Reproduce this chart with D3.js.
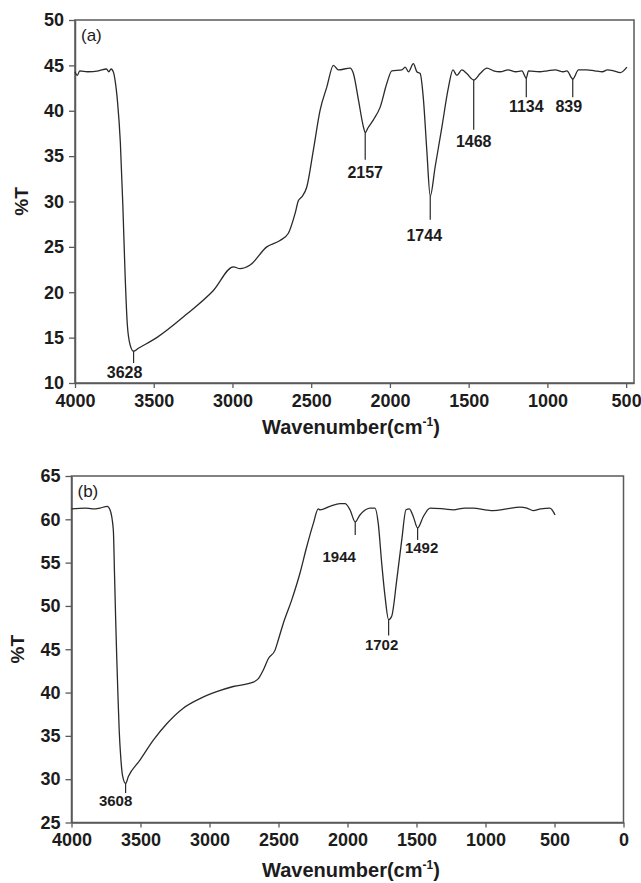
<!DOCTYPE html>
<html>
<head>
<meta charset="utf-8">
<script src="https://cdn.jsdelivr.net/npm/d3@7"></script>
<style>
  body { margin: 0; background: #fff; }
  svg { display: block; font-family: "Liberation Sans", Arial, sans-serif; }
</style>
</head>
<body>
<div id="chart"></div>
<script>
// Panel (a) spectrum: wavenumber (cm-1) and %T
const wnA = [4000, 3985, 3970, 3920, 3850, 3800, 3785, 3771, 3755, 3746, 3730, 3712, 3696, 3682, 3668, 3650, 3628, 3600,
  3481, 3290, 3121, 2994, 2952, 2888, 2782, 2698, 2645, 2602, 2581, 2560, 2528, 2486, 2443, 2401, 2359, 2327, 2253,
  2232, 2200, 2168, 2157, 2140, 2105, 2062, 2020, 1988, 1924, 1903, 1882, 1851, 1829, 1808, 1787, 1766, 1744, 1713,
  1670, 1628, 1600, 1575, 1543, 1512, 1468, 1427, 1384, 1342, 1300, 1250, 1200, 1162, 1134, 1120, 1050, 1000, 950,
  900, 876, 839, 802, 750, 700, 650, 620, 580, 537, 495];
const tA = [44.3, 43.9, 44.4, 44.3, 44.4, 44.6, 44.3, 44.6, 44.2, 43.4, 41.0, 36.5, 29.5, 22.0, 16.5, 14.2, 13.5, 13.8,
  15.0, 17.6, 20.2, 22.8, 22.6, 23.0, 25.0, 25.7, 26.5, 28.7, 30.1, 30.5, 31.6, 35.7, 40.1, 42.6, 45.0, 44.5, 44.7,
  44.1, 41.2, 38.2, 37.6, 38.1, 39.0, 40.4, 43.0, 44.4, 44.5, 44.8, 44.3, 45.2, 44.3, 44.1, 41.2, 35.7, 30.6, 33.8,
  38.2, 42.6, 44.5, 43.9, 44.5, 44.1, 43.4, 44.1, 44.7, 44.4, 44.3, 44.5, 44.3, 44.4, 43.6, 44.4, 44.3, 44.4, 44.5,
  44.3, 44.4, 43.5, 44.5, 44.5, 44.4, 44.3, 44.5, 44.4, 44.2, 44.8];

// Panel (b) spectrum
const wnB = [4000, 3900, 3850, 3793, 3741, 3721, 3697, 3688, 3680, 3672, 3663, 3654, 3643, 3630, 3608, 3588, 3504,
  3407, 3310, 3190, 3069, 2948, 2828, 2683, 2646, 2610, 2574, 2525, 2501, 2465, 2404, 2344, 2296, 2248, 2212, 2199,
  2127, 2054, 2018, 1982, 1944, 1910, 1886, 1837, 1801, 1777, 1752, 1728, 1702, 1680, 1643, 1607, 1576, 1552, 1523,
  1492, 1451, 1402, 1300, 1233, 1150, 1089, 1000, 944, 846, 750, 700, 654, 600, 533, 496];
const tB = [61.2, 61.3, 61.2, 61.3, 61.5, 61.1, 58.8, 53.5, 48.5, 44.0, 39.5, 35.5, 32.5, 30.4, 29.5, 30.3, 32.2,
  34.5, 36.4, 38.2, 39.3, 40.1, 40.7, 41.2, 41.6, 42.6, 43.9, 44.9, 46.1, 48.0, 50.7, 53.8, 56.8, 59.5, 61.2, 61.1,
  61.5, 61.8, 61.8, 61.1, 59.7, 60.5, 60.9, 61.3, 61.3, 59.5, 54.9, 51.1, 48.4, 48.8, 53.0, 57.6, 61.1, 61.2, 60.3,
  59.0, 60.3, 61.3, 61.2, 61.1, 61.3, 61.3, 61.1, 61.0, 61.2, 61.4, 61.3, 61.0, 61.2, 61.3, 60.5];

// Peak markers: wavenumber, %T at the dip, %T where the marker line ends
const peaksA = [3628, 2157, 1744, 1468, 1134, 839];
const peakMinA = [13.5, 37.6, 30.6, 43.4, 43.6, 43.5];
const peakEndA = [12.2, 34.6, 28.0, 37.9, 41.5, 41.5];
const peaksB = [3608, 1944, 1702, 1492];
const peakMinB = [29.5, 59.7, 48.4, 59.0];
const peakEndB = [28.4, 58.2, 46.6, 57.6];

const xTicksA = [4000, 3500, 3000, 2500, 2000, 1500, 1000, 500];
const yTicksA = [10, 15, 20, 25, 30, 35, 40, 45, 50];
const xTicksB = [4000, 3500, 3000, 2500, 2000, 1500, 1000, 500, 0];
const yTicksB = [25, 30, 35, 40, 45, 50, 55, 60, 65];

const W = 641, H = 883;
const svg = d3.select("#chart").append("svg")
  .attr("width", W)
  .attr("height", H);

const axisColor = "#5a5a5a";
const inkColor = "#1c1c1c";

function drawPanel(opt) {
  const x = d3.scaleLinear().domain(opt.xDomain).range([opt.left, opt.right]);
  const y = d3.scaleLinear().domain(opt.yDomain).range([opt.bottom, opt.top]);
  const g = svg.append("g");

  // frame
  g.append("rect")
    .attr("x", opt.left).attr("y", opt.top)
    .attr("width", opt.right - opt.left).attr("height", opt.bottom - opt.top)
    .attr("fill", "none").attr("stroke", axisColor).attr("stroke-width", 1.5);

  const xAxis = g.append("g")
    .attr("transform", `translate(0,${opt.bottom})`)
    .call(d3.axisBottom(x).tickValues(opt.xTicks).tickFormat(d3.format("d"))
      .tickSize(5).tickPadding(6).tickSizeOuter(0));
  const yAxis = g.append("g")
    .attr("transform", `translate(${opt.left},0)`)
    .call(d3.axisLeft(y).tickValues(opt.yTicks).tickFormat(d3.format("d"))
      .tickSize(6).tickPadding(5).tickSizeOuter(0));

  [xAxis, yAxis].forEach(a => {
    a.select(".domain").attr("stroke", axisColor).attr("stroke-width", 1.5);
    a.selectAll(".tick line").attr("stroke", axisColor).attr("stroke-width", 1.3);
    a.selectAll(".tick text")
      .attr("fill", inkColor)
      .style("font-size", "18px")
      .style("font-weight", "bold")
      .style("font-family", "'Liberation Sans', Arial, sans-serif");
  });

  // spectrum
  const pts = opt.wn.map((w, i) => [w, opt.t[i]]);
  const line = d3.line()
    .x(d => x(d[0]))
    .y(d => y(d[1]))
    .curve(d3.curveMonotoneX);
  g.append("path")
    .datum(pts)
    .attr("d", line)
    .attr("fill", "none")
    .attr("stroke", "#2a2a2a")
    .attr("stroke-width", 1.3)
    .attr("stroke-linejoin", "round");

  // peak markers
  opt.peaks.forEach((p, i) => {
    g.append("line")
      .attr("x1", x(p)).attr("x2", x(p))
      .attr("y1", y(opt.peakMin[i])).attr("y2", y(opt.peakEnd[i]))
      .attr("stroke", "#2a2a2a").attr("stroke-width", 1.2);
    const off = opt.labelOffsets[i];
    g.append("text")
      .attr("x", x(p) + off[0])
      .attr("y", y(opt.peakEnd[i]) + off[1])
      .attr("text-anchor", "middle")
      .attr("fill", inkColor)
      .style("font-size", opt.peakFont + "px")
      .style("font-weight", "bold")
      .text(p);
  });

  // panel tag
  g.append("text")
    .attr("x", opt.left + 6)
    .attr("y", opt.top + 21)
    .attr("fill", inkColor)
    .style("font-size", "17px")
    .text(opt.tag);

  // y title
  const cy = (opt.top + opt.bottom) / 2;
  g.append("text")
    .attr("transform", `translate(${opt.yTitleX},${cy}) rotate(-90)`)
    .attr("text-anchor", "middle")
    .attr("fill", inkColor)
    .style("font-size", "19px")
    .style("font-weight", "bold")
    .text("%T");

  // x title
  const xt = g.append("text")
    .attr("x", 351)
    .attr("y", opt.bottom + opt.xTitleGap)
    .attr("text-anchor", "middle")
    .attr("fill", inkColor)
    .style("font-size", "20px")
    .style("font-weight", "bold");
  xt.append("tspan").text("Wavenumber(cm");
  xt.append("tspan").attr("dy", -8).style("font-size", "12px").text("-1");
  xt.append("tspan").attr("dy", 8).text(")");
}

drawPanel({
  left: 75, right: 634, top: 20, bottom: 383,
  xDomain: [4000, 450], yDomain: [10, 50],
  xTicks: xTicksA, yTicks: yTicksA,
  wn: wnA, t: tA,
  peaks: peaksA, peakMin: peakMinA, peakEnd: peakEndA,
  labelOffsets: [[-9, 15], [0, 18], [-6, 21], [0, 17], [0, 15], [-4, 15]],
  peakFont: 16,
  tag: "(a)", yTitleX: 28, xTitleGap: 51
});

drawPanel({
  left: 71.5, right: 623.5, top: 476, bottom: 822.5,
  xDomain: [4000, 0], yDomain: [25, 65],
  xTicks: xTicksB, yTicks: yTicksB,
  wn: wnB, t: tB,
  peaks: peaksB, peakMin: peakMinB, peakEnd: peakEndB,
  labelOffsets: [[-10, 13], [-16, 27], [-7, 15], [4, 13]],
  peakFont: 15,
  tag: "(b)", yTitleX: 24, xTitleGap: 54
});
</script>
</body>
</html>
